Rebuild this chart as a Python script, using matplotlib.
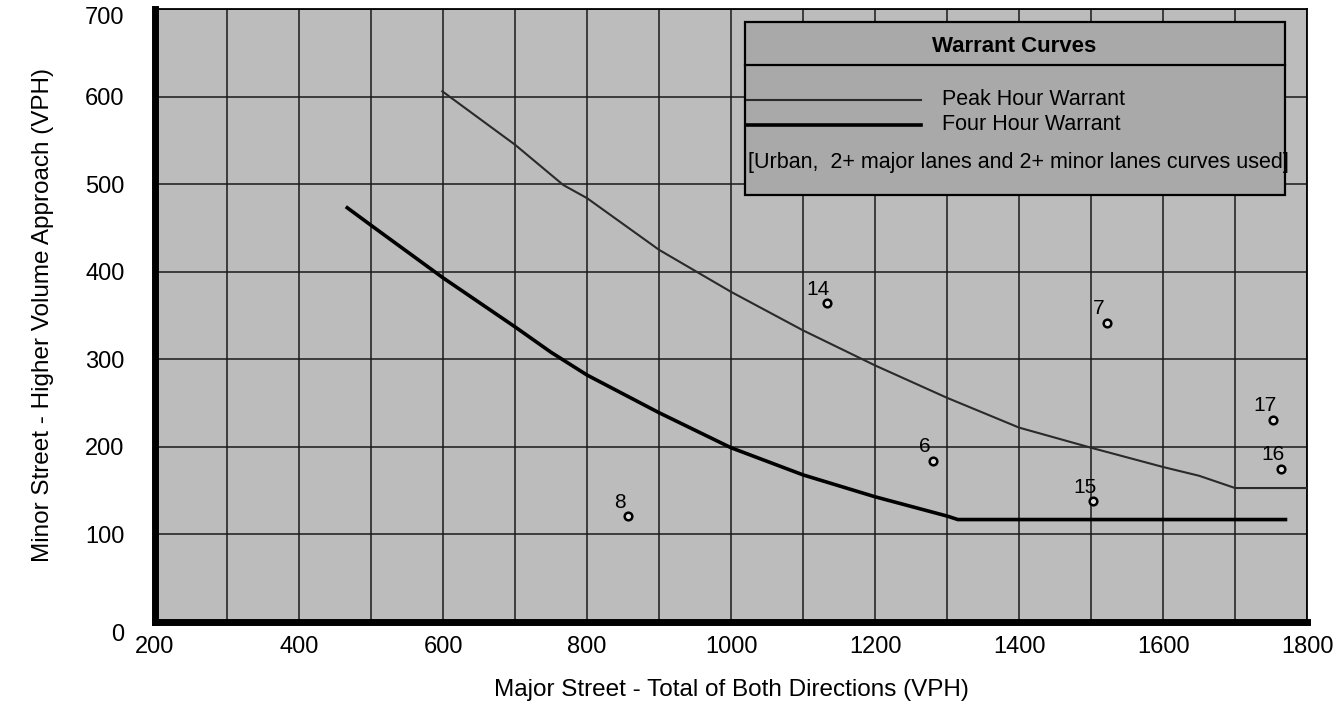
import matplotlib
matplotlib.use('Agg')
from matplotlib import pyplot as plt
from matplotlib.patches import Rectangle
from matplotlib.transforms import ScaledTranslation

plt.rcParams['font.family'] = ['Liberation Sans', 'DejaVu Sans']

# Four hour warrant curve (urban, 2+ major / 2+ minor lanes)
four_hour_x = [467, 500, 600, 700, 750, 800, 900, 1000, 1100, 1200, 1300, 1315, 1770]
four_hour_y = [473, 453, 393, 337, 308, 282, 239, 199, 168, 143, 121, 117, 117]

# Peak hour warrant curve
peak_hour_x = [599, 700, 767, 800, 900, 1000, 1100, 1200, 1300, 1400, 1500, 1600, 1650, 1700, 1800]
peak_hour_y = [606, 545, 499, 484, 425, 377, 333, 293, 256, 222, 199, 177, 167, 153, 153]

# Intersections
site_labels = ['14', '7', '17', '6', '16', '15', '8']
site_major = [1133, 1522, 1753, 1280, 1764, 1503, 857]
site_minor = [364, 342, 231, 184, 175, 138, 121]

x_ticks = [200, 400, 600, 800, 1000, 1200, 1400, 1600, 1800]
y_ticks = [0, 100, 200, 300, 400, 500, 600, 700]

fig = plt.figure(figsize=(13.41, 7.07), dpi=100)
ax = fig.add_axes([0.1156, 0.1202, 0.8591, 0.8671])
ax.set_facecolor('#bcbcbc')

ax.set_xlim(200, 1800)
ax.set_ylim(0, 700)
ax.set_xticks(x_ticks)
ax.set_yticks(y_ticks)
ax.set_xticks(range(300, 1800, 100), minor=True)
ax.grid(which='both', axis='x', color='#1a1a1a', linewidth=1.1)
ax.grid(which='major', axis='y', color='#1a1a1a', linewidth=1.1)
ax.set_axisbelow(True)
ax.tick_params(which='both', length=0)
ax.tick_params(axis='x', labelsize=17, pad=10)
ax.tick_params(axis='y', labelsize=17, pad=22)

# the "0" and "700" labels sit a little lower in the original
ylbls = ax.get_yticklabels()
for lbl, dy in [(ylbls[0], -0.1), (ylbls[-1], -0.07)]:
    lbl.set_transform(lbl.get_transform()
                      + ScaledTranslation(0, dy, fig.dpi_scale_trans))

for side in ['left', 'bottom']:
    ax.spines[side].set_linewidth(5)
for side in ['top', 'right']:
    ax.spines[side].set_linewidth(1.3)

ax.set_xlabel('Major Street - Total of Both Directions (VPH)', fontsize=17.5,
              labelpad=15)
ax.set_ylabel('Minor Street - Higher Volume Approach (VPH)', fontsize=17.5,
              labelpad=22)

ax.plot(peak_hour_x, peak_hour_y, color='#2a2a2a', linewidth=1.5, zorder=3)
ax.plot(four_hour_x, four_hour_y, color='black', linewidth=2.6, zorder=3)

ax.plot(site_major, site_minor, linestyle='none', marker='o', markersize=5.5,
        markerfacecolor='#e0e0e0', markeredgecolor='black',
        markeredgewidth=1.8, zorder=4)
for lbl, x, y in zip(site_labels, site_major, site_minor):
    ax.annotate(lbl, (x, y), xytext=(-6, 10), textcoords='offset points',
                ha='center', va='center', fontsize=15)

# legend box
ax.add_patch(Rectangle((0.512, 0.697), 0.469, 0.282, transform=ax.transAxes,
                       facecolor='#a9a9a9', edgecolor='black', linewidth=1.6,
                       zorder=5))
ax.plot([0.512, 0.981], [0.909, 0.909], transform=ax.transAxes,
        color='black', linewidth=1.6, zorder=6)
ax.text(0.746, 0.938, 'Warrant Curves', transform=ax.transAxes, ha='center',
        va='center', fontsize=16, fontweight='bold', zorder=6)
ax.plot([0.514, 0.665], [0.852, 0.852], transform=ax.transAxes,
        color='#2a2a2a', linewidth=1.5, zorder=6)
ax.plot([0.514, 0.665], [0.811, 0.811], transform=ax.transAxes,
        color='black', linewidth=2.6, zorder=6)
ax.text(0.683, 0.852, 'Peak Hour Warrant', transform=ax.transAxes,
        ha='left', va='center', fontsize=15.5, zorder=6)
ax.text(0.683, 0.811, 'Four Hour Warrant', transform=ax.transAxes,
        ha='left', va='center', fontsize=15.5, zorder=6)
ax.text(0.515, 0.750, '[Urban,  2+ major lanes and 2+ minor lanes curves used]',
        transform=ax.transAxes, ha='left', va='center', fontsize=15.5, zorder=6,
        clip_on=False)

fig.savefig('out.png', dpi=100)
